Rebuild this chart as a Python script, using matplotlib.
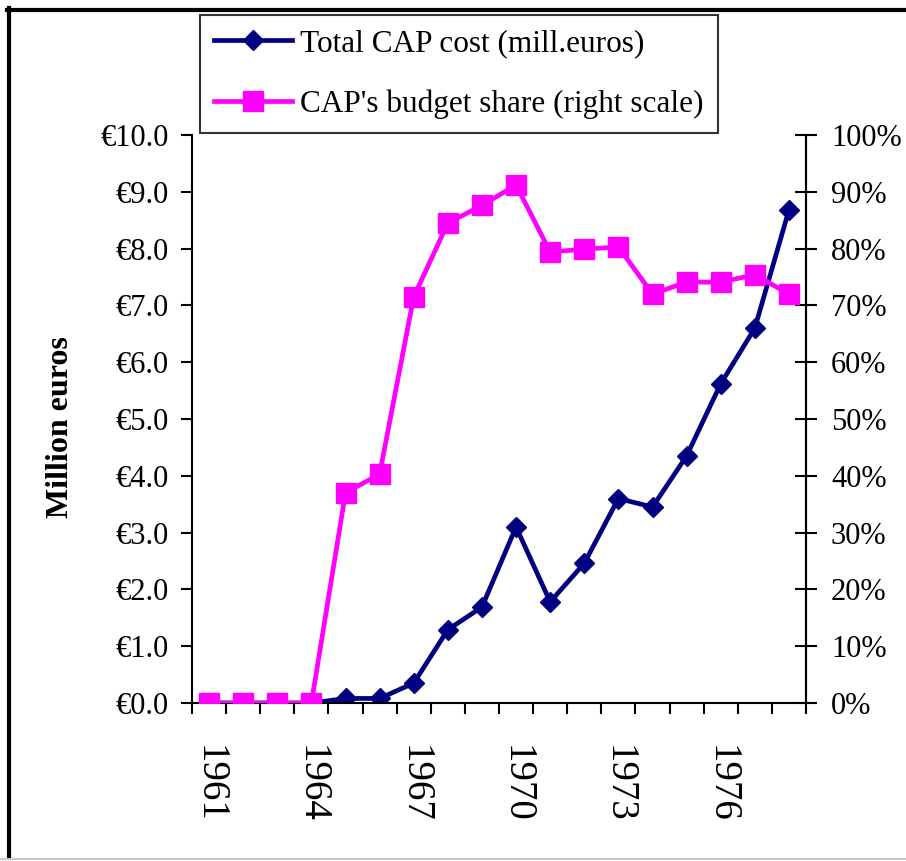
import matplotlib
matplotlib.use("Agg")
import matplotlib.pyplot as plt
from matplotlib.lines import Line2D
import numpy as np

# data
years = list(range(1961, 1979))
cap_cost = [0, 0, 0, 0, 0.08, 0.08, 0.35, 1.29, 1.69, 3.1, 1.78, 2.46,
            3.6, 3.45, 4.35, 5.62, 6.6, 8.68]
budget_share = [0, 0, 0, 0, 37.0, 40.3, 71.5, 84.5, 87.6, 91.2, 79.4, 79.9,
                80.3, 72.0, 74.1, 74.1, 75.4, 72.0]
label_years = [1961, 1964, 1967, 1970, 1973, 1976]

NAVY = "#000080"
MAGENTA = "#FF00FF"

plt.rcParams['font.family'] = ['Liberation Serif', 'DejaVu Serif']

W, H = 906, 861
fig = plt.figure(figsize=(W / 100, H / 100), dpi=100)
ax = fig.add_axes([192 / W, 1 - 703 / H, (806 - 192) / W, (703 - 135) / H])
ax2 = ax.twinx()

x = np.arange(len(years))
l1, = ax.plot(x, cap_cost, color=NAVY, lw=3.4, marker='D', ms=10.5,
              markeredgecolor=NAVY, label="Total CAP cost (mill.euros)")
l2, = ax2.plot(x, budget_share, color=MAGENTA, lw=3.4, marker='s', ms=14,
               markeredgecolor=MAGENTA, label="CAP's budget share (right scale)")

ax.set_xlim(-0.5, len(years) - 0.5)
ax.set_ylim(0, 10)
ax2.set_ylim(0, 100)

# left axis
ax.set_yticks(np.arange(0, 10.01, 1))
ax.set_yticklabels(["€%.1f" % v for v in np.arange(0, 10.01, 1)])
ax.tick_params(axis='y', direction='out', length=8, width=1.5, pad=9,
               labelsize=22)
ax.set_ylabel("Million euros", fontsize=23, fontweight='bold')
ax.yaxis.set_label_coords(-0.19, 0.485)

# right axis
ax2.set_yticks(np.arange(0, 101, 10))
ax2.set_yticklabels(["%d%%" % v for v in range(0, 101, 10)])
ax2.tick_params(axis='y', direction='inout', length=16, width=1.5, pad=10,
                labelsize=22)

# x axis: ticks at category boundaries, labels at centres
ax.set_xticks([years.index(y) for y in label_years])
ax.set_xticklabels([str(y) for y in label_years], rotation=-90)
ax.tick_params(axis='x', which='major', length=0, pad=30, labelsize=28)
ax.set_xticks(np.arange(-0.5, len(years), 1), minor=True)
ax.tick_params(axis='x', which='minor', direction='out', length=8, width=1.5)

for a in (ax, ax2):
    a.spines['top'].set_visible(False)
    for s in ('left', 'right', 'bottom'):
        a.spines[s].set_linewidth(1.5)
ax2.spines['left'].set_visible(False)
ax2.spines['bottom'].set_visible(False)

leg = fig.legend(handles=[l1, l2], loc='upper left',
                 bbox_to_anchor=(200 / W, 1 - 15 / H), borderaxespad=0,
                 fontsize=22.5, frameon=True, fancybox=False, handlelength=2.5,
                 handletextpad=0.25, labelspacing=1.0, borderpad=0.45)
leg.get_frame().set_edgecolor('black')
leg.get_frame().set_linewidth(1.5)

# outer frame of the picture
fig.add_artist(Line2D([8.5 / W, 8.5 / W], [1 - 858 / H, 1 - 8 / H],
                      color='black', lw=3, transform=fig.transFigure))
fig.add_artist(Line2D([7 / W, 1], [1 - 10 / H, 1 - 10 / H],
                      color='black', lw=3, transform=fig.transFigure))
fig.add_artist(Line2D([0, 1], [1 - 858.5 / H, 1 - 858.5 / H],
                      color='#c8c8c8', lw=1.5, transform=fig.transFigure))

fig.savefig("out.png", dpi=100)
